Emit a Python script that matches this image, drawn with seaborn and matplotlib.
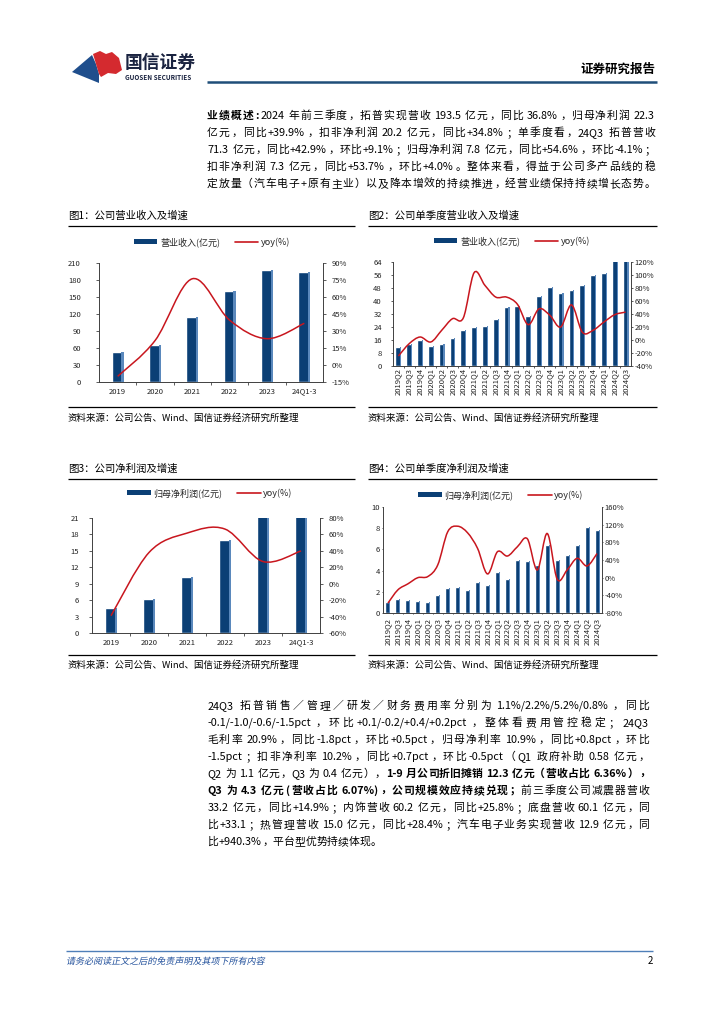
import numpy as np
import matplotlib
matplotlib.use("Agg")
import matplotlib.pyplot as plt
import seaborn as sns
from matplotlib.path import Path
from matplotlib.patches import PathPatch, Polygon, Rectangle
from matplotlib.lines import Line2D
from matplotlib.ticker import FuncFormatter
from matplotlib.textpath import TextPath
from matplotlib.font_manager import FontProperties
from matplotlib.transforms import Affine2D, IdentityTransform

sns.set_style("white")
FAM = ['Noto Sans CJK SC', 'DejaVu Sans']
plt.rcParams['font.family'] = FAM
plt.rcParams['axes.unicode_minus'] = False

# ---------------- data ----------------
years = ["2019", "2020", "2021", "2022", "2023", "24Q1-3"]
rev_year = [53.6, 65.1, 114.6, 159.9, 197.0, 193.5]
rev_year_yoy = [-10.0, 21.5, 76.1, 39.5, 23.2, 36.8]

quarters = ["2019Q2", "2019Q3", "2019Q4", "2020Q1", "2020Q2", "2020Q3", "2020Q4",
            "2021Q1", "2021Q2", "2021Q3", "2021Q4", "2022Q1", "2022Q2", "2022Q3",
            "2022Q4", "2023Q1", "2023Q2", "2023Q3", "2023Q4", "2024Q1", "2024Q2", "2024Q3"]
rev_q = [11.9, 13.3, 15.8, 12.1, 13.5, 17.4, 21.9, 24.2, 24.8, 29.1, 36.5, 37.1,
         30.6, 43.1, 48.8, 44.9, 47.0, 50.1, 55.8, 57.0, 65.4, 71.3]
rev_q_yoy = [-24.6, -5.6, 4.6, -3.0, 14.9, 32.8, 34.0, 103.6, 84.0, 66.0, 66.0, 55.0,
             23.6, 48.0, 38.0, 20.0, 54.0, 12.0, 15.0, 27.7, 39.0, 42.9]

np_year = [4.5, 6.3, 10.2, 17.0, 21.5, 22.3]
np_year_yoy = [-39.0, 38.0, 61.6, 66.5, 27.0, 39.9]

np_q = [1.0, 1.3, 1.2, 1.15, 1.0, 1.7, 2.4, 2.45, 2.15, 2.95, 2.6, 3.85, 3.2, 5.0,
        4.95, 4.5, 6.4, 5.0, 5.5, 6.4, 8.1, 7.8]
np_q_yoy = [-57.5, -27.5, -14.0, 0.0, 2.5, 28.8, 103.8, 116.5, 101.5, 66.3, 8.5, 58.8,
            49.0, 70.0, 88.0, 17.5, 100.0, -3.5, 17.5, 43.8, 26.5, 54.6]

NAVY = "#0B3F75"
EDGE_HI = "#5A88BC"
RED = "#C8161E"
SP = "#404040"
TXT = "#222222"

W, H = 724, 1024
fig = plt.figure(figsize=(W / 100, H / 100), dpi=100)
renderer = fig.canvas.get_renderer()


def fx(x):
    return x / W


def fy(y):
    return 1 - y / H


def ftext(x, y, s, **kw):
    return fig.text(fx(x), fy(y), s, **kw)


def hline(x0, x1, y, color="black", lw=0.9):
    fig.add_artist(Line2D([fx(x0), fx(x1)], [fy(y), fy(y)], transform=fig.transFigure,
                          color=color, lw=lw, solid_capstyle="butt"))


# ---------------- justified text ----------------
_cache = {}


def tw(s, size, bold):
    key = (s, size, bold)
    if key not in _cache:
        t = fig.text(0, 0, s, fontsize=size, fontweight='bold' if bold else 'normal')
        _cache[key] = t.get_window_extent(renderer).width
        t.remove()
    return _cache[key]


OPEN = set("（《“‘【「")
PUNCT = set("，。；：、）》”’】」！？")


def draw_line(segs, x0, x1, y, size=8.0, justify=True, color="black"):
    em = size * 100 / 72
    toks = []
    for s, b in segs:
        i = 0
        while i < len(s):
            ch = s[i]
            if ch == ' ':
                toks.append((' ', b, 'sp'))
                i += 1
            elif ord(ch) < 128:
                j = i
                while j < len(s) and ord(s[j]) < 128 and s[j] != ' ':
                    j += 1
                toks.append((s[i:j], b, 'asc'))
                i = j
            else:
                toks.append((ch, b, 'cjk'))
                i += 1
    widths = []
    for t, b, k in toks:
        if k == 'sp':
            widths.append(0.22 * em)
        elif k == 'cjk':
            widths.append(em)
        else:
            widths.append(tw(t, size, b) + 0.12 * em)
    total = sum(widths)
    nonsp = [k for _, _, k in toks if k != 'sp']
    ngaps = max(len(nonsp) - 1, 1)
    gap = (x1 - x0 - total) / ngaps if justify else 0
    x = x0
    base = y + 0.36 * em
    first = True
    for (t, b, k), w in zip(toks, widths):
        if k == 'sp':
            x += w
            continue
        if not first:
            x += gap
        first = False
        fw = 'bold' if b else 'normal'
        if k == 'cjk':
            if t in OPEN:
                fig.text(fx(x + w * 0.95), fy(base), t, fontsize=size, fontweight=fw,
                         ha='right', va='baseline', color=color)
            elif t in PUNCT:
                fig.text(fx(x + 0.06 * w), fy(base), t, fontsize=size, fontweight=fw,
                         ha='left', va='baseline', color=color)
            else:
                fig.text(fx(x + w / 2), fy(base), t, fontsize=size, fontweight=fw,
                         ha='center', va='baseline', color=color)
        else:
            fig.text(fx(x + 0.06 * em), fy(base), t, fontsize=size, fontweight=fw,
                     ha='left', va='baseline', color=color)
        x += w


# ---------------- smoothed line ----------------
def smooth_path(xs, ys):
    pts = np.column_stack([xs, ys]).astype(float)
    n = len(pts)
    verts = [pts[0]]
    codes = [Path.MOVETO]
    for i in range(n - 1):
        p0 = pts[i - 1] if i > 0 else pts[i]
        p1 = pts[i]
        p2 = pts[i + 1]
        p3 = pts[i + 2] if i + 2 < n else pts[i + 1]
        verts += [p1 + (p2 - p0) / 6, p2 - (p3 - p1) / 6, p2]
        codes += [Path.CURVE4] * 3
    return Path(verts, codes)


def combo(box, cats, bars, yoy, ylim, ystep, y2lim, y2step, bw, rot, lpad, rpad, xpad,
          leg_xy, bar_label, tick_len=2.5):
    x0, y0, x1, y1 = box
    ax = fig.add_axes([fx(x0), fy(y1), (x1 - x0) / W, (y1 - y0) / H])
    sns.barplot(x=cats, y=bars, color=NAVY, width=bw, saturation=1, ax=ax, zorder=2)
    # lighter right edge of each bar (as in the original's shaded bars)
    for p in list(ax.patches):
        ax.add_patch(Rectangle((p.get_x() + p.get_width() * 0.8, p.get_y()),
                               p.get_width() * 0.2, p.get_height(),
                               facecolor=EDGE_HI, edgecolor='none', zorder=2.1))
    n = len(cats)
    ax.set_xlim(-0.5, n - 0.5)
    ax.set_ylim(*ylim)
    ax.set_yticks(np.arange(ylim[0], ylim[1] + 1e-6, ystep))
    ax.yaxis.set_major_formatter(FuncFormatter(lambda v, p: f"{v:g}"))
    ax.set_xlabel('')
    ax.set_ylabel('')
    ax.set_xticks(range(n))
    ax.set_xticklabels(cats, rotation=rot)
    ax.set_xticks(np.arange(0.5, n - 0.5, 1), minor=True)
    ax.tick_params(axis='x', which='major', length=0, pad=xpad, labelsize=5.5, labelcolor=TXT)
    ax.tick_params(axis='x', which='minor', length=tick_len, width=0.6, direction='out',
                   color=SP, bottom=True)
    ax.tick_params(axis='y', length=tick_len, width=0.6, direction='out', pad=lpad,
                   labelsize=5.5, color=SP, labelcolor=TXT, left=True)
    for s in ['top', 'right']:
        ax.spines[s].set_visible(False)
    for s in ['left', 'bottom']:
        ax.spines[s].set_color(SP)
        ax.spines[s].set_linewidth(0.7)
    ax2 = ax.twinx()
    ax2.set_ylim(*y2lim)
    ax2.set_yticks(np.arange(y2lim[0], y2lim[1] + 1e-6, y2step))
    ax2.yaxis.set_major_formatter(FuncFormatter(lambda v, p: f"{v:g}%"))
    ax2.tick_params(axis='y', length=tick_len, width=0.6, direction='out', pad=rpad,
                    labelsize=5.5, color=SP, labelcolor=TXT, right=True)
    for s in ['top', 'left', 'bottom']:
        ax2.spines[s].set_visible(False)
    ax2.spines['right'].set_color(SP)
    ax2.spines['right'].set_linewidth(0.7)
    ax2.add_patch(PathPatch(smooth_path(np.arange(n), yoy), fill=False, edgecolor=RED,
                            lw=1.1, zorder=3))
    handles = [Rectangle((0, 0), 1, 1, facecolor=NAVY, edgecolor='none'),
               Line2D([], [], color=RED, lw=1.2)]
    fig.legend(handles, [bar_label, 'yoy(%)'], loc='center',
               bbox_to_anchor=(fx(leg_xy[0]), fy(leg_xy[1])), bbox_transform=fig.transFigure,
               ncol=2, frameon=False, fontsize=6.5, handlelength=2.6, handleheight=0.45,
               handletextpad=0.3, columnspacing=1.6, borderpad=0, borderaxespad=0)
    return ax, ax2


# ---------------- header ----------------
fig.add_artist(Polygon([(fx(x), fy(y)) for x, y in
                        [(72, 72), (92, 55), (96, 64), (99, 74), (99, 83)]],
                       closed=True, transform=fig.transFigure, facecolor="#1F4E8C",
                       edgecolor='none'))
fig.add_artist(Polygon([(fx(x), fy(y)) for x, y in
                        [(93, 54), (100, 51), (106, 54), (112, 52), (119, 58), (122, 70),
                         (116, 74), (108, 73), (101, 77), (99, 74), (96, 64)]],
                       closed=True, transform=fig.transFigure, facecolor="#D42A2F",
                       edgecolor='none'))
ftext(125, 63, "国信证券", fontsize=12.8, fontweight='bold', color="#1A2340",
      ha='left', va='center')
ftext(125, 78, "GUOSEN SECURITIES", fontsize=4.6, fontweight='bold', color="#1A2340",
      ha='left', va='center')
ftext(655, 69, "证券研究报告", fontsize=9, fontweight='bold', color="black",
      ha='right', va='center')
hline(207, 657, 82, color="#1F4E79", lw=1.8)

# ---------------- paragraph 1 ----------------
para1 = [
    [("业绩概述:", True), ("2024 年前三季度，拓普实现营收 193.5 亿元，同比 36.8%，归母净利润 22.3", False)],
    [("亿元，同比+39.9%，扣非净利润 20.2 亿元，同比+34.8%；单季度看，24Q3 拓普营收", False)],
    [("71.3 亿元，同比+42.9%，环比+9.1%；归母净利润 7.8 亿元，同比+54.6%，环比-4.1%；", False)],
    [("扣非净利润 7.3 亿元，同比+53.7%，环比+4.0%。整体来看，得益于公司多产品线的稳", False)],
    [("定放量（汽车电子+原有主业）以及降本增效的持续推进，经营业绩保持持续增长态势。", False)],
]
for i, segs in enumerate(para1):
    draw_line(segs, 207, 655, 115 + 17 * i, size=7.8)

# ---------------- chart frames ----------------
titles = [(68, 216, "图1：公司营业收入及增速"), (368, 216, "图2：公司单季度营业收入及增速"),
          (68, 469, "图3：公司净利润及增速"), (368, 469, "图4：公司单季度净利润及增速")]
for x, y, s in titles:
    ftext(x, y, s, fontsize=7.5, ha='left', va='center', color='black')
for y in [226, 479, 407, 655]:
    hline(68, 355, y, lw=0.9)
    hline(368, 657, y, lw=0.9)
src = "资料来源：公司公告、Wind、国信证券经济研究所整理"
for x, y in [(68, 418), (368, 418), (68, 665), (368, 665)]:
    ftext(x, y, src, fontsize=6.8, ha='left', va='center', color='black')

combo((99, 263, 323, 382), years, rev_year, rev_year_yoy, (0, 210), 30, (-15, 90), 15,
      0.32, 0, 10.5, 3.5, 4, (212, 242), "营业收入(亿元)")
combo((393, 262, 631, 366), quarters, rev_q, rev_q_yoy, (0, 64), 8, (-40, 120), 20,
      0.55, 90, 6.5, 1.0, 1.5, (512, 241), "营业收入(亿元)", tick_len=1.5)
combo((92, 518, 320, 633), years, np_year, np_year_yoy, (0, 21), 3, (-60, 80), 20,
      0.32, 0, 7.0, 4.0, 4, (210, 493), "归母净利润(亿元)")
combo((383, 507, 602, 613), quarters, np_q, np_q_yoy, (0, 10), 2, (-80, 160), 40,
      0.5, 90, 1.0, 1.0, 3.5, (501, 495), "归母净利润(亿元)", tick_len=1.0)

# ---------------- paragraph 2 ----------------
para2 = [
    [("24Q3 拓普销售／管理／研发／财务费用率分别为 1.1%/2.2%/5.2%/0.8%，同比", False)],
    [("-0.1/-1.0/-0.6/-1.5pct，环比+0.1/-0.2/+0.4/+0.2pct，整体看费用管控稳定；24Q3", False)],
    [("毛利率 20.9%，同比-1.8pct，环比+0.5pct，归母净利率 10.9%，同比+0.8pct，环比", False)],
    [("-1.5pct；扣非净利率 10.2%，同比+0.7pct，环比-0.5pct（Q1 政府补助 0.58 亿元，", False)],
    [("Q2 为 1.1 亿元，Q3 为 0.4 亿元），", False), ("1-9 月公司折旧摊销 12.3 亿元（营收占比 6.36%），", True)],
    [("Q3 为 4.3 亿元(营收占比 6.07%)，公司规模效应持续兑现；", True), ("前三季度公司减震器营收", False)],
    [("33.2 亿元，同比+14.9%；内饰营收 60.2 亿元，同比+25.8%；底盘营收 60.1 亿元，同", False)],
    [("比+33.1；热管理营收 15.0 亿元，同比+28.4%；汽车电子业务实现营收 12.9 亿元，同", False)],
    [("比+940.3%，平台型优势持续体现。", False)],
]
for i, segs in enumerate(para2):
    draw_line(segs, 207, 649, 705 + 17 * i, size=7.8, justify=(i < len(para2) - 1))

# ---------------- footer ----------------
hline(66, 653, 951, color="#4F7FB8", lw=1.0)
fpx = 6.5 * 100 / 72
tp = TextPath((0, 0), "请务必阅读正文之后的免责声明及其项下所有内容", size=fpx,
              prop=FontProperties(family='Noto Sans CJK SC'))
fig.add_artist(PathPatch(tp, transform=Affine2D().skew_deg(12, 0).translate(66, H - 961 - 0.36 * fpx)
                         + IdentityTransform(), facecolor="#1F4E9A", edgecolor='none'))
ftext(653, 961, "2", fontsize=7, color="black", ha='right', va='center')

fig.savefig("out.png", dpi=100)
